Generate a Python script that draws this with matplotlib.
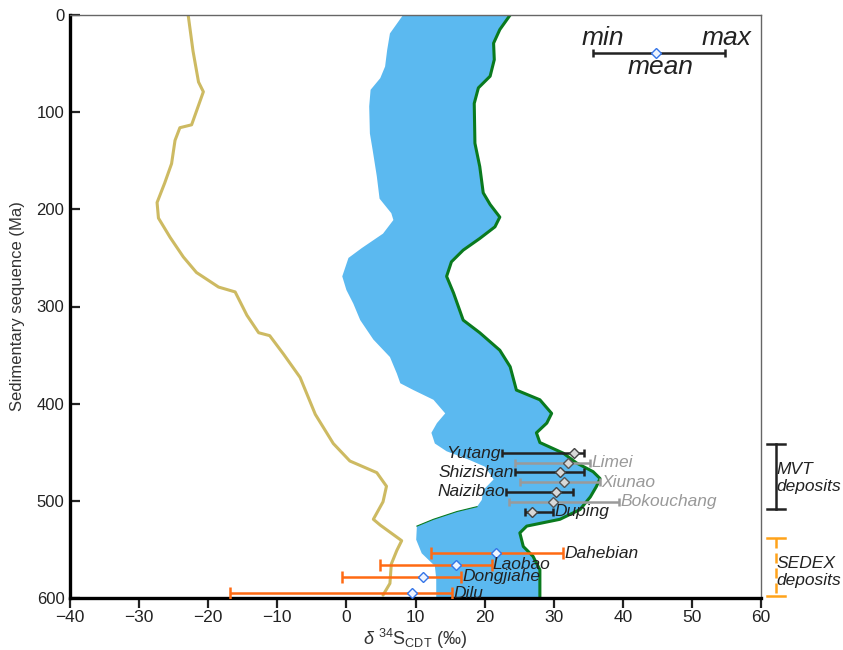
import matplotlib
matplotlib.use("Agg")
import matplotlib.pyplot as plt
import numpy as np

plt.rcParams["font.family"] = ["Liberation Sans", "DejaVu Sans"]
plt.rcParams["mathtext.fontset"] = "custom"
plt.rcParams["mathtext.rm"] = "Liberation Sans"
plt.rcParams["mathtext.it"] = "Liberation Sans:italic"

# seawater sulfate band (left edge / right edge), delta34S vs age
BAND_LEFT_X = [8.2, 6.3, 5.9, 5.6, 4.9, 3.5, 3.3, 3.4, 3.8, 4.4, 4.8, 6.5, 6.8, 5.3, 2.2, 0.3,
               -0.6, 0.0, 1.0, 2.0, 3.9, 6.3, 7.3, 7.8, 9.7, 12.6, 14.3, 13.1, 12.3, 12.8,
               14.5, 17.5, 20.1, 21.3, 19.8, 19.6, 18.9, 16.0, 12.6, 10.2, 10.1, 10.9, 12.8,
               13.0, 13.0]
BAND_LEFT_Y = [0, 19, 36, 53, 65, 77, 94, 122, 139, 166, 189, 204, 211, 225, 240, 250,
               269, 283, 297, 314, 334, 352, 369, 379, 386, 396, 410, 420, 430, 441,
               449, 457, 465, 478, 489, 499, 506, 511, 519, 526, 540, 554, 567,
               580, 600]
BAND_RIGHT_X = [23.7, 22.2, 21.3, 21.4, 20.8, 19.1, 18.5, 18.6, 19.3, 19.8, 20.8, 22.2, 21.5,
                19.3, 16.9, 15.2, 14.5, 15.5, 16.2, 16.9, 19.3, 22.2, 23.7, 24.6, 28.0, 29.7,
                29.0, 27.5, 28.0, 31.4, 33.3, 35.7, 36.7, 36.2, 35.3, 33.8, 30.9, 26.1, 25.1,
                25.6, 27.0, 28.0, 28.0, 28.0]
BAND_RIGHT_Y = [0, 15, 29, 46, 63, 75, 91, 132, 156, 183, 195, 208, 218,
                230, 242, 254, 269, 286, 300, 314, 327, 345, 362, 386, 396, 410,
                420, 430, 440, 451, 461, 470, 477, 485, 496, 509, 519, 526, 533,
                547, 557, 571, 588, 600]

# sulfide curve
SULFIDE_X = [-22.9, -22.2, -21.4, -20.7, -22.4, -24.1, -24.8, -25.3, -26.3, -27.4, -27.2,
             -25.5, -23.6, -21.7, -18.5, -16.1, -14.4, -12.7, -11.1, -9.1, -6.7, -4.5,
             -1.9, 0.5, 4.4, 5.8, 5.3, 3.9, 4.9, 8.0, 7.3, 6.5, 6.3, 5.3]
SULFIDE_Y = [0, 37, 69, 79, 113, 116, 129, 153, 173, 193, 209,
             229, 249, 265, 280, 285, 309, 327, 330, 349, 373, 411,
             441, 459, 471, 485, 501, 519, 525, 541, 551, 565, 585, 597]

# deposits: name, age, min, mean, max, group
DEPOSITS = ["Yutang", "Limei", "Shizishan", "Xiunao", "Naizibao", "Bokouchang", "Duping",
            "Dahebian", "Laobao", "Dongjiahe", "Dilu"]
DEP_AGE = [451, 460.6, 470.8, 481, 490.4, 500.7, 511, 553.8, 565.8, 577.9, 595]
DEP_MIN = [22.5, 24.4, 24.4, 25.1, 23.1, 23.6, 25.8, 12.2, 4.9, -0.7, -16.8]
DEP_MEAN = [32.9, 32.1, 30.9, 31.5, 30.4, 29.9, 26.8, 21.6, 15.9, 11.1, 9.5]
DEP_MAX = [34.4, 35.2, 34.4, 36.7, 32.8, 39.5, 29.9, 31.4, 21.0, 16.6, 15.3]
DEP_GROUP = ["mvt", "other", "mvt", "other", "mvt", "other", "mvt",
             "sedex", "sedex", "sedex", "sedex"]
LABEL_SIDE = ["left", "right", "left", "right", "left", "right", "right",
              "right", "right", "right", "right"]

STYLE = {
    "mvt": dict(bar="#222222", text="#222222", face="#d8d8d8", edge="#444444", cap=3.2),
    "other": dict(bar="#9a9a9a", text="#999999", face="#d8d8d8", edge="#555555", cap=3.2),
    "sedex": dict(bar="#ff6a13", text="#222222", face="#eef4ff", edge="#3575e8", cap=4.2),
}

fig = plt.figure(figsize=(8.43, 6.5), dpi=100)
ax = fig.add_axes([70 / 843, 1 - 598 / 650, 691 / 843, 583 / 650])

# blue band
ax.fill(BAND_LEFT_X + BAND_RIGHT_X[::-1], BAND_LEFT_Y + BAND_RIGHT_Y[::-1],
        color="#5bb9f0", lw=0, zorder=1)
ax.plot(BAND_RIGHT_X, BAND_RIGHT_Y, color="#0a7a1e", lw=2.2, zorder=2,
        solid_joinstyle="round", solid_capstyle="round")
ax.plot(BAND_LEFT_X[36:40], BAND_LEFT_Y[36:40], color="#0a7a1e", lw=0.8, zorder=2)
ax.plot(SULFIDE_X, SULFIDE_Y, color="#cdba62", lw=2.2, zorder=2,
        solid_joinstyle="round", solid_capstyle="round")

for name, age, lo, mean, hi, grp, side in zip(DEPOSITS, DEP_AGE, DEP_MIN, DEP_MEAN,
                                              DEP_MAX, DEP_GROUP, LABEL_SIDE):
    st = STYLE[grp]
    ax.errorbar(mean, age, xerr=[[mean - lo], [hi - mean]], fmt="none",
                ecolor=st["bar"], elinewidth=1.8, capsize=st["cap"], capthick=1.8, zorder=3)
    ax.plot(mean, age, "D", ms=5, mfc=st["face"], mec=st["edge"], mew=1, zorder=4)
    if side == "left":
        ax.annotate(name, (lo, age), xytext=(-1, 0), textcoords="offset points",
                    ha="right", va="center", fontsize=12.5, style="italic",
                    color=st["text"], zorder=5)
    else:
        ax.annotate(name, (hi, age), xytext=(1, 0), textcoords="offset points",
                    ha="left", va="center", fontsize=12.5, style="italic",
                    color=st["text"], zorder=5)

# key: min / mean / max
ax.errorbar(44.8, 39.4, xerr=[[44.8 - 35.7], [54.8 - 44.8]], fmt="none",
            ecolor="#222222", elinewidth=1.8, capsize=3.2, capthick=1.8, zorder=3)
ax.plot(44.8, 39.4, "D", ms=5, mfc="#eef4ff", mec="#3575e8", mew=1, zorder=4)
ax.text(37.1, 23.7, "min", fontsize=19, style="italic", ha="center", va="center", color="#222222")
ax.text(55.0, 23.7, "max", fontsize=19, style="italic", ha="center", va="center", color="#222222")
ax.text(45.4, 54, "mean", fontsize=19, style="italic", ha="center", va="center", color="#222222")

# deposit-type brackets beside the frame
ax.plot([62.1, 62.1], [441, 508], color="#222222", lw=1.8, clip_on=False)
for yy in (441, 508):
    ax.plot([60.8, 63.5], [yy, yy], color="#222222", lw=1.8, clip_on=False)
ax.plot([62.1, 62.1], [538, 598], color="#ffa31a", lw=1.8, ls=(0, (4, 2)), clip_on=False)
for yy in (538, 598):
    ax.plot([60.8, 63.5], [yy, yy], color="#ffa31a", lw=1.8, clip_on=False)
ax.text(62.3, 468, "MVT", fontsize=12.5, style="italic", va="center", color="#222222",
        clip_on=False)
ax.text(62.3, 485, "deposits", fontsize=12.5, style="italic", va="center", color="#222222",
        clip_on=False)
ax.text(62.3, 565, "SEDEX", fontsize=12.5, style="italic", va="center", color="#222222",
        clip_on=False)
ax.text(62.3, 582, "deposits", fontsize=12.5, style="italic", va="center", color="#222222",
        clip_on=False)

ax.set_xlim(-40, 60)
ax.set_ylim(600, 0)
ax.set_xticks(np.arange(-40, 61, 10))
ax.set_yticks(np.arange(0, 601, 100))

ax.tick_params(axis="x", direction="out", length=7, width=1.6, colors="#222222",
               labelsize=12.5, pad=2)
ax.tick_params(axis="y", direction="in", length=7, width=1.6, colors="#222222",
               labelsize=12, pad=4)

for side in ("left", "bottom"):
    ax.spines[side].set_linewidth(2.4)
    ax.spines[side].set_color("black")
for side in ("top", "right"):
    ax.spines[side].set_linewidth(1.0)
    ax.spines[side].set_color("#666666")

ax.set_ylabel("Sedimentary sequence (Ma)", fontsize=12, color="#333333", labelpad=8)
ax.set_xlabel(r"$\delta$ $^{34}$S$_{\rm CDT}$ (‰)", fontsize=13, color="#333333", labelpad=1)

fig.savefig("out.png", dpi=100)
